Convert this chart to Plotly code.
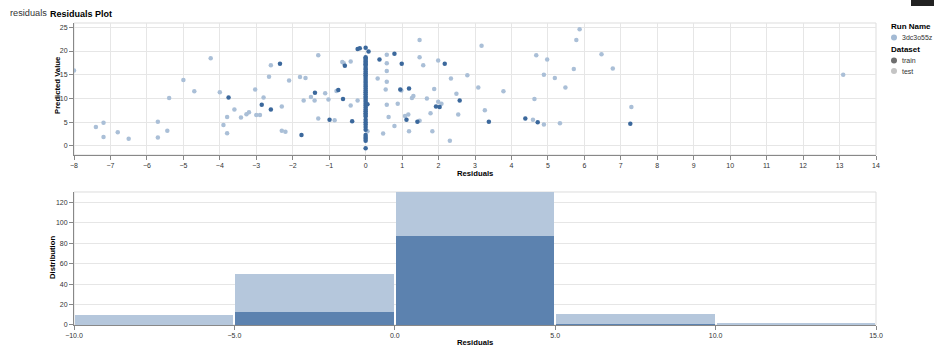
import plotly.graph_objects as go

# ---------------- data ----------------
train_x = [-3.76, -2.85, -2.6, -2.35, -1.76, -1.39, -0.99, -0.75, -0.62, -0.57, -0.37, -0.22, -0.16,
           0.08, 0.05, 0.38, 0.79, 0.95, 0.99, 1.12, 1.19, 1.42, 1.93, 2.03, 2.17, 2.58, 3.38,
           4.38, 4.72, 7.26]
train_y = [10.2, 8.7, 7.7, 17.3, 2.3, 11.2, 5.5, 11.8, 9.9, 16.9, 5.2, 20.4, 20.6,
           19.9, 8.8, 18.2, 19.4, 11.9, 17.3, 5.5, 12.1, 5.1, 8.3, 8.2, 17.3, 9.6, 5.1,
           5.8, 5.0, 4.7]
# training points with zero residual (vertical column)
train_zero_y = [20.7, 18.7, 18.4, 18.1, 17.8, 17.5, 17.2, 16.9, 16.4, 16.1, 15.7, 15.3, 14.9, 14.5,
                14.1, 13.7, 13.3, 12.9, 12.5, 12.1, 11.7, 11.3, 10.9, 10.4, 10.1, 9.7, 9.3, 8.9,
                8.5, 8.1, 7.7, 7.3, 6.9, 6.5, 6.2, 5.5, 5.0, 4.5, 4.0, 3.4, 2.3, 1.9, 1.5, 1.1, -0.5]

test_x = [-8.0, -7.4, -7.19, -7.19, -6.8, -6.5, -5.7, -5.7, -5.44, -5.39,
          -5.0, -4.7, -4.25, -4.0, -3.9, -3.8, -3.8, -3.6, -3.42, -3.27, -3.2, -3.03, -3.0, -2.9,
          -2.8, -2.65, -2.6, -2.3, -2.3, -2.2, -2.1, -1.8, -1.7, -1.65, -1.5, -1.4, -1.3, -1.3,
          -1.11, -1.02, -0.85, -0.8, -0.64, -0.6, -0.41, -0.41, -0.22,
          0.05, 0.33, 0.48, 0.55, 0.58, 0.58, 0.58, 0.58, 0.58, 0.63, 0.79, 0.88, 0.98, 1.08,
          1.17, 1.19, 1.27, 1.31, 1.48, 1.48, 1.48, 1.58, 1.68, 1.78, 1.83, 1.88, 1.99, 1.99,
          2.08, 2.31, 2.34, 2.49, 2.54, 2.79, 3.09, 3.18, 3.27, 3.78, 4.59, 4.63, 4.68, 4.89,
          4.89, 4.98, 5.19, 5.33, 5.48, 5.71, 5.78, 5.87, 6.47, 6.78, 7.29, 13.1]
test_y = [15.9, 4.0, 4.9, 1.9, 2.9, 1.5, 5.1, 1.8, 3.2, 10.1,
          13.9, 11.5, 18.5, 11.3, 4.4, 6.1, 2.7, 7.7, 6.0, 6.7, 7.1, 11.9, 6.5, 6.5,
          10.2, 14.6, 17.0, 8.3, 3.2, 3.0, 13.8, 14.5, 9.6, 14.3, 10.3, 9.6, 19.1, 5.8,
          11.1, 9.8, 5.4, 11.6, 17.7, 17.4, 17.8, 8.5, 9.6,
          3.1, 14.2, 2.6, 11.9, 19.2, 17.4, 15.8, 13.5, 8.7, 6.1, 4.2, 8.9, 11.7, 6.3,
          6.6, 3.1, 10.1, 10.5, 5.3, 18.7, 22.3, 17.0, 10.0, 6.9, 3.1, 12.0, 18.0, 9.3,
          8.9, 1.1, 14.2, 11.0, 6.6, 14.9, 12.3, 21.1, 7.5, 11.5, 5.5, 9.9, 19.1, 4.5,
          15.0, 18.2, 14.3, 4.8, 12.3, 16.2, 22.3, 24.6, 19.3, 16.3, 8.2, 15.0]

# histogram of residuals (bin starts, width 5)
hist_bin_start = [-10, -5, 0, 5, 10]
hist_train = [0, 13, 87, 1, 0]
hist_test = [10, 37, 43, 10, 1]
bin_width = 5

run_name = "3dc3o55z"

# ---------------- styling ----------------
FONT = "Liberation Sans, Arial, Helvetica, sans-serif"
TRAIN_PT = "#3b689c"
TEST_PT = "#aabfd7"
TRAIN_BAR = "#5c82af"
TEST_BAR = "#b5c7dc"
GRID = "#e6e6e6"
AXIS = "#888888"

fig = go.Figure()

fig.add_trace(go.Scatter(x=test_x, y=test_y, mode="markers", xaxis="x", yaxis="y",
                         marker=dict(color=TEST_PT, size=4.5, line=dict(width=0)),
                         name="test", showlegend=False))
fig.add_trace(go.Scatter(x=[0] * len(train_zero_y) + train_x, y=train_zero_y + train_y,
                         mode="markers", xaxis="x", yaxis="y",
                         marker=dict(color=TRAIN_PT, size=4.5, line=dict(width=0)),
                         name="train", showlegend=False))

fig.add_trace(go.Bar(x=hist_bin_start, y=hist_train, xaxis="x2", yaxis="y2",
                     offset=0.03, width=bin_width - 0.06, marker=dict(color=TRAIN_BAR, line=dict(width=0)),
                     name="train", showlegend=False))
fig.add_trace(go.Bar(x=hist_bin_start, y=hist_test, xaxis="x2", yaxis="y2",
                     offset=0.03, width=bin_width - 0.06, marker=dict(color=TEST_BAR, line=dict(width=0)),
                     name="test", showlegend=False))

tickfont = dict(family=FONT, size=7, color="#333333")
common = dict(showline=True, linecolor=AXIS, linewidth=1, ticks="outside", ticklen=4,
              tickcolor=AXIS, tickfont=tickfont, zeroline=False, gridcolor=GRID, gridwidth=1)

fig.update_layout(
    width=934, height=357,
    margin=dict(l=74, r=58, t=23, b=32),
    paper_bgcolor="white", plot_bgcolor="white",
    font=dict(family=FONT, color="#333333"),
    barmode="stack", bargap=0,
    xaxis=dict(domain=[0, 1], anchor="y", range=[-8, 14], dtick=1, tick0=0, showgrid=True, **common),
    yaxis=dict(domain=[0.563, 1], anchor="x", range=[-1.9, 25.9], dtick=5, tick0=0, showgrid=True, **common),
    xaxis2=dict(domain=[0, 1], anchor="y2", range=[-10, 15], tickvals=[-10, -5, 0, 5, 10, 15],
                tickformat=".1f", showgrid=False, **common),
    yaxis2=dict(domain=[0, 0.4404], anchor="x2", range=[0, 130], dtick=20, tick0=0, showgrid=True, **common),
    hovermode=False,
)

# view borders
for xr, yr in (("x domain", "y domain"), ("x2 domain", "y2 domain")):
    fig.add_shape(type="rect", xref=xr, yref=yr, x0=0, x1=1, y0=0, y1=1,
                  line=dict(color="#dddddd", width=1), layer="below")

def px_x(px):
    return (px - 74) / 802

def px_y(py):
    return (325 - py) / 302

axis_title_font = dict(family=FONT, size=7.7, color="#000000")
legend_title_font = dict(family=FONT, size=8, color="#000000")
label_font = dict(family=FONT, size=7, color="#333333")
ann = [
    dict(text="residuals", x=px_x(8), y=px_y(13), xanchor="left", yanchor="middle",
         font=dict(family=FONT, size=9.2, color="#333333")),
    dict(text="<b>Residuals Plot</b>", x=px_x(48), y=px_y(14), xanchor="left", yanchor="middle",
         font=dict(family=FONT, size=9, color="#000000")),
    dict(text="<b>Predicted Value</b>", x=px_x(57), y=px_y(85), xanchor="center", yanchor="middle",
         textangle=-90, font=axis_title_font),
    dict(text="<b>Residuals</b>", x=0.5, y=px_y(173), xanchor="center", yanchor="middle", font=axis_title_font),
    dict(text="<b>Distribution</b>", x=px_x(52), y=px_y(258), xanchor="center", yanchor="middle",
         textangle=-90, font=axis_title_font),
    dict(text="<b>Residuals</b>", x=0.5, y=px_y(342.5), xanchor="center", yanchor="middle", font=axis_title_font),
    dict(text="<b>Run Name</b>", x=px_x(889), y=px_y(26), xanchor="left", yanchor="middle", font=legend_title_font),
    dict(text=run_name, x=px_x(900), y=px_y(37.5), xanchor="left", yanchor="middle", font=label_font),
    dict(text="<b>Dataset</b>", x=px_x(889), y=px_y(49), xanchor="left", yanchor="middle", font=legend_title_font),
    dict(text="train", x=px_x(900), y=px_y(60.5), xanchor="left", yanchor="middle", font=label_font),
    dict(text="test", x=px_x(900), y=px_y(71), xanchor="left", yanchor="middle", font=label_font),
]
for a in ann:
    fig.add_annotation(xref="paper", yref="paper", showarrow=False, **a)

# legend symbols
for cy, col in ((37.5, "#a3bad4"), (60.5, "#6e6e6e"), (71, "#c4c4c4")):
    fig.add_shape(type="circle", xref="paper", yref="paper",
                  x0=px_x(891), x1=px_x(897), y0=px_y(cy + 3), y1=px_y(cy - 3),
                  fillcolor=col, line=dict(width=0))

# dark UI widget at top right
fig.add_shape(type="rect", xref="paper", yref="paper",
              x0=px_x(911), x1=px_x(934), y0=px_y(6), y1=px_y(0),
              fillcolor="#222222", line=dict(width=0))

# remove the default page margin so the 934x357 figure fills the window
fig.write_html("out.html", config={"displayModeBar": False},
               post_script="document.body.style.margin='0';document.body.style.overflow='hidden';")
